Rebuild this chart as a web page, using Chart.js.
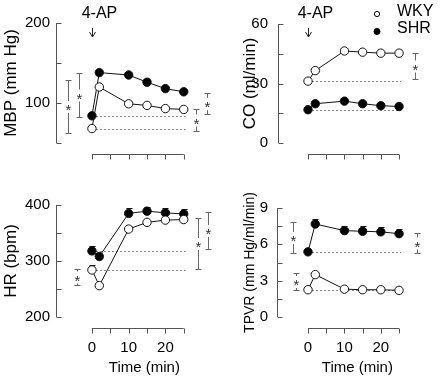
<!DOCTYPE html>
<html>
<head>
<meta charset="utf-8">
<script src="https://cdn.jsdelivr.net/npm/chart.js@4.4.0/dist/chart.umd.min.js"></script>
<style>
  body { margin: 0; background: #fff; }
  #wrap { position: relative; width: 443px; height: 380px; }
  .panel { position: absolute; }
</style>
</head>
<body>
<div id="wrap">
  <div class="panel" style="left:0;top:0;width:238px;height:190px"><canvas id="mbp"></canvas></div>
  <div class="panel" style="left:238px;top:0;width:205px;height:190px"><canvas id="co"></canvas></div>
  <div class="panel" style="left:0;top:190px;width:238px;height:190px"><canvas id="hr"></canvas></div>
  <div class="panel" style="left:238px;top:190px;width:205px;height:190px"><canvas id="tpvr"></canvas></div>
</div>
<script>
// time course after 4-AP, WKY vs SHR

const times = [0, 2, 10, 15, 20, 25];
const timeTicks = [0, 5, 10, 15, 20, 25];
const timeLabels = [0, 10, 20];
const seriesNames = ["WKY", "SHR"];

// MBP (mm Hg)
const mbpWKY = [68, 120, 99, 97, 93, 92];
const mbpSHR = [84, 138, 135, 126, 118, 114];
const mbpWKYErr = [2, 2, 2, 2, 2, 2];
const mbpSHRErr = [2, 2, 2, 2, 2, 2];
const mbpTicks = [50, 100, 150, 200];
const mbpTickLabels = [100, 200];
const mbpStarX = [-6.5, -3.4, 28.3, 31.2];
const mbpStarLo = [63, 83, 65, 86];
const mbpStarHi = [129, 137, 92, 112];

// CO (ml/min)
const coWKY = [31.2, 36.5, 46.4, 45.8, 45.3, 45.3];
const coSHR = [16.8, 19.8, 21.1, 19.8, 18.8, 18.4];
const coWKYErr = [0.8, 0.8, 0.8, 0.8, 0.8, 0.8];
const coSHRErr = [0.8, 0.8, 0.8, 0.8, 0.8, 0.8];
const coTicks = [0, 15, 30, 45, 60];
const coTickLabels = [0, 30, 60];
const coStarX = [29.3];
const coStarLo = [32.5];
const coStarHi = [45.6];

// HR (bpm)
const hrWKY = [284, 256, 357, 369, 373, 374];
const hrSHR = [318, 308, 385, 389, 386, 384];
const hrWKYErr = [8, 4, 6, 5, 5, 5];
const hrSHRErr = [8, 6, 9, 8, 8, 8];
const hrTicks = [200, 250, 300, 350, 400];
const hrTickLabels = [200, 300, 400];
const hrStarX = [-4.2, 28.8, 31.5];
const hrStarLo = [257, 286, 321];
const hrStarHi = [286, 376, 387];

// TPVR (mm Hg/ml/min)
const tpvrWKY = [2.25, 3.5, 2.3, 2.25, 2.25, 2.2];
const tpvrSHR = [5.38, 7.68, 7.13, 7.08, 7.03, 6.88];
const tpvrWKYErr = [0.15, 0.2, 0.1, 0.1, 0.1, 0.1];
const tpvrSHRErr = [0.2, 0.45, 0.4, 0.4, 0.4, 0.4];
const tpvrTicks = [0, 1.5, 3, 4.5, 6, 7.5, 9];
const tpvrTickLabels = [0, 3, 6, 9];
const tpvrStarX = [-4.0, -3.3, 29.8];
const tpvrStarLo = [5.25, 2.25, 5.3];
const tpvrStarHi = [7.83, 3.63, 6.93];

const FONT = "'Liberation Sans', Arial, sans-serif";
const axisColor = "#555";
const starColor = "#666";
Chart.defaults.font.family = FONT;
Chart.defaults.color = "#000";

function line(ctx, x1, y1, x2, y2) {
    ctx.beginPath();
    ctx.moveTo(x1, y1);
    ctx.lineTo(x2, y2);
    ctx.stroke();
}

const panelPlugin = {
    id: "panel",
    beforeDatasetsDraw(chart) {
        const p = chart.options.plugins.panel;
        const ctx = chart.ctx;
        const xs = chart.scales.x, ys = chart.scales.y;
        ctx.save();
        ctx.lineWidth = 1;

        // dotted baselines at the t=0 value
        ctx.strokeStyle = "#888";
        ctx.setLineDash([2, 2]);
        p.series.forEach(s => {
            const y = Math.round(ys.getPixelForValue(s.values[0])) + 0.5;
            line(ctx, xs.getPixelForValue(times[0]), y, xs.getPixelForValue(times[times.length - 1]) + 2, y);
        });
        ctx.setLineDash([]);

        // upward error bars
        ctx.strokeStyle = "#111";
        p.series.forEach(s => {
            times.forEach((t, i) => {
                const x = Math.round(xs.getPixelForValue(t)) + 0.5;
                const y0 = ys.getPixelForValue(s.values[i]);
                const y1 = Math.round(ys.getPixelForValue(s.values[i] + s.err[i])) + 0.5;
                line(ctx, x, y0, x, y1);
                line(ctx, x - 3, y1, x + 3, y1);
            });
        });
        ctx.restore();
    },
    afterDraw(chart) {
        const p = chart.options.plugins.panel;
        const ctx = chart.ctx;
        const xs = chart.scales.x, ys = chart.scales.y;
        const area = chart.chartArea;
        ctx.save();
        ctx.lineWidth = 1;
        ctx.strokeStyle = axisColor;

        // y axis, ticks pointing in
        const ax = Math.round(area.left) + 0.5;
        line(ctx, ax, ys.getPixelForValue(p.yTicks[0]), ax, ys.getPixelForValue(p.yTicks[p.yTicks.length - 1]));
        p.yTicks.forEach(v => {
            const y = Math.round(ys.getPixelForValue(v)) + 0.5;
            line(ctx, ax, y, ax + 5, y);
        });

        // x axis, detached below the plot
        const ay = Math.round(area.bottom) + 11.5;
        line(ctx, xs.getPixelForValue(timeTicks[0]), ay, xs.getPixelForValue(timeTicks[timeTicks.length - 1]), ay);
        timeTicks.forEach(v => {
            const x = Math.round(xs.getPixelForValue(v)) + 0.5;
            line(ctx, x, ay, x, ay + 5);
        });

        // significance brackets
        ctx.strokeStyle = starColor;
        ctx.fillStyle = "#333";
        ctx.font = "15px " + FONT;
        ctx.textAlign = "center";
        ctx.textBaseline = "alphabetic";
        p.stars.x.forEach((t, i) => {
            const x = Math.round(xs.getPixelForValue(t)) + 0.5;
            const yHi = Math.round(ys.getPixelForValue(p.stars.hi[i])) + 0.5;
            const yLo = Math.round(ys.getPixelForValue(p.stars.lo[i])) + 0.5;
            const ym = (yHi + yLo) / 2;
            line(ctx, x, yHi, x, ym - 6);
            line(ctx, x, ym + 6, x, yLo);
            line(ctx, x - 3, yHi, x + 3, yHi);
            line(ctx, x - 3, yLo, x + 3, yLo);
            ctx.fillText("*", x, ym + 8);
        });

        // 4-AP arrow at t = 0
        if (p.arrow) {
            const x = Math.round(xs.getPixelForValue(0)) + 0.5;
            ctx.strokeStyle = "#222";
            ctx.fillStyle = "#000";
            ctx.font = "16px " + FONT;
            ctx.textBaseline = "middle";
            ctx.fillText("4-AP", x + 7, 14);
            line(ctx, x, 28, x, 37);
            line(ctx, x - 3, 32, x, 37);
            line(ctx, x + 3, 32, x, 37);
        }

        // legend
        if (p.legend) {
            ctx.font = "16px " + FONT;
            ctx.textAlign = "left";
            ctx.textBaseline = "middle";
            ctx.fillStyle = "#000";
            seriesNames.forEach((name, i) => {
                const cy = 12 + i * 16.5;
                ctx.beginPath();
                ctx.arc(139, cy + 2 + i, i === 0 ? 2.6 : 3, 0, Math.PI * 2);
                ctx.fillStyle = i === 0 ? "#fff" : "#000";
                ctx.fill();
                ctx.strokeStyle = "#000";
                ctx.stroke();
                ctx.fillStyle = "#000";
                ctx.fillText(name, 159, cy);
            });
        }
        ctx.restore();
    }
};

function buildChart(id, spec) {
    const series = [
        { values: spec.wky, err: spec.wkyErr },
        { values: spec.shr, err: spec.shrErr }
    ];
    return new Chart(document.getElementById(id), {
        type: "line",
        data: {
            datasets: series.map((s, i) => ({
                label: seriesNames[i],
                data: times.map((t, j) => ({ x: t, y: s.values[j] })),
                borderColor: "#111",
                borderWidth: 1,
                pointRadius: 4.2,
                pointBorderWidth: 1,
                pointBorderColor: "#111",
                pointBackgroundColor: i === 0 ? "#fff" : "#000",
                fill: false,
                clip: false
            }))
        },
        options: {
            responsive: true,
            maintainAspectRatio: false,
            animation: false,
            layout: { padding: { top: spec.padTop, left: 0, right: 0, bottom: 0 } },
            plugins: {
                legend: { display: false },
                tooltip: { enabled: false },
                panel: {
                    series: series,
                    yTicks: spec.yTicks,
                    stars: spec.stars,
                    arrow: spec.arrow,
                    legend: spec.legend
                }
            },
            scales: {
                x: {
                    type: "linear",
                    min: spec.xMin,
                    max: spec.xMax,
                    grid: { display: false, drawTicks: false },
                    border: { display: false },
                    afterBuildTicks: (scale) => { scale.ticks = timeLabels.map(v => ({ value: v })); },
                    afterFit: (scale) => { scale.height = spec.xAxisH; },
                    ticks: {
                        display: spec.timeLabels,
                        padding: 22,
                        font: { size: 15 },
                        maxRotation: 0,
                        autoSkip: false
                    },
                    title: {
                        display: spec.timeLabels,
                        text: "Time (min)",
                        font: { size: 15 },
                        padding: { top: 0, bottom: 3 }
                    }
                },
                y: {
                    type: "linear",
                    min: spec.yTicks[0],
                    max: spec.yTicks[spec.yTicks.length - 1],
                    grid: { display: false, drawTicks: false },
                    border: { display: false },
                    afterBuildTicks: (scale) => { scale.ticks = spec.yTicks.map(v => ({ value: v })); },
                    afterFit: (scale) => { scale.width = spec.axisW; },
                    ticks: {
                        padding: spec.tickPad,
                        font: { size: 15 },
                        autoSkip: false,
                        callback: (v) => spec.yLabels.includes(v) ? String(v) : ""
                    },
                    title: {
                        display: true,
                        text: spec.title,
                        font: { size: spec.titleSize },
                        padding: { top: spec.titlePad, bottom: 0 }
                    }
                }
            }
        },
        plugins: [panelPlugin]
    });
}

buildChart("mbp", {
    wky: mbpWKY, shr: mbpSHR, wkyErr: mbpWKYErr, shrErr: mbpSHRErr,
    yTicks: mbpTicks, yLabels: mbpTickLabels,
    stars: { x: mbpStarX, lo: mbpStarLo, hi: mbpStarHi },
    title: "MBP (mm Hg)", titleSize: 17, titlePad: 0.8,
    xMin: -9.79, xMax: 38.36, axisW: 56, padTop: 23, xAxisH: 47, tickPad: 6,
    timeLabels: false, arrow: true, legend: false
});

buildChart("co", {
    wky: coWKY, shr: coSHR, wkyErr: coWKYErr, shrErr: coSHRErr,
    yTicks: coTicks, yLabels: coTickLabels,
    stars: { x: coStarX, lo: coStarLo, hi: coStarHi },
    title: "CO (ml/min)", titleSize: 17, titlePad: 1.8,
    xMin: -8.24, xMax: 35.64, axisW: 40, padTop: 24, xAxisH: 47, tickPad: 10,
    timeLabels: false, arrow: true, legend: true
});

buildChart("hr", {
    wky: hrWKY, shr: hrSHR, wkyErr: hrWKYErr, shrErr: hrSHRErr,
    yTicks: hrTicks, yLabels: hrTickLabels,
    stars: { x: hrStarX, lo: hrStarLo, hi: hrStarHi },
    title: "HR (bpm)", titleSize: 17, titlePad: 0.8,
    xMin: -9.79, xMax: 38.36, axisW: 56, padTop: 7, xAxisH: 63, tickPad: 6,
    timeLabels: true, arrow: false, legend: false
});

buildChart("tpvr", {
    wky: tpvrWKY, shr: tpvrSHR, wkyErr: tpvrWKYErr, shrErr: tpvrSHRErr,
    yTicks: tpvrTicks, yLabels: tpvrTickLabels,
    stars: { x: tpvrStarX, lo: tpvrStarLo, hi: tpvrStarHi },
    title: "TPVR (mm Hg/ml/min)", titleSize: 14, titlePad: 3.6,
    xMin: -8.51, xMax: 35.64, axisW: 39, padTop: 7, xAxisH: 63, tickPad: 9,
    timeLabels: true, arrow: false, legend: false
});
</script>
</body>
</html>
